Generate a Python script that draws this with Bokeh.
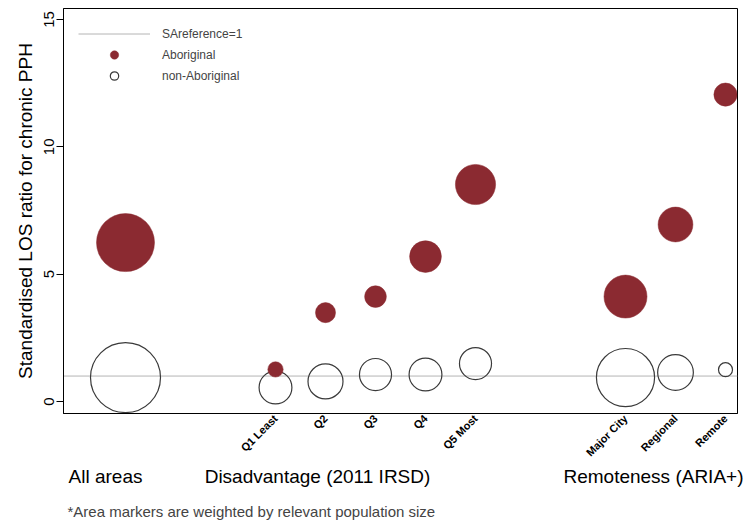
import math
from bokeh.plotting import figure
from bokeh.models import (FixedTicker, LinearAxis, Legend, LegendItem,
                          Title, Range1d, ColumnDataSource)
from bokeh.embed import file_html
from bokeh.resources import INLINE

# ---- data ----
categories = ["All areas", "Q1 Least", "Q2", "Q3", "Q4", "Q5 Most",
              "Major City", "Regional", "Remote"]
category_x = [1, 4, 5, 6, 7, 8, 11, 12, 13]
aboriginal = [6.24, 1.26, 3.49, 4.12, 5.69, 8.52, 4.12, 6.95, 12.05]
non_aboriginal = [0.94, 0.55, 0.79, 1.06, 1.06, 1.49, 0.94, 1.14, 1.25]
# relative population weights (All areas = 100) that size the markers
aboriginal_pop = [100, 7, 12, 14, 30, 48, 55, 36, 16]
non_aboriginal_pop = [100, 22, 25, 21, 22, 21, 69, 26, 4]
group_labels = ["All areas", "Disadvantage (2011 IRSD)", "Remoteness (ARIA+)"]
reference_value = 1
y_ticks = [0, 5, 10, 15]

FONT = "Liberation Sans"
RED = "#8b2a31"

src_a = ColumnDataSource(dict(x=category_x, y=aboriginal,
                              s=[5.8 * math.sqrt(v) for v in aboriginal_pop]))
src_n = ColumnDataSource(dict(x=category_x, y=non_aboriginal,
                              s=[7.0 * math.sqrt(v) for v in non_aboriginal_pop]))

xr = Range1d(-0.24, 13.24)
yr = Range1d(-0.47, 15.43)
p = figure(frame_width=674, frame_height=405, x_range=xr, y_range=yr,
           output_backend="svg", toolbar_location=None,
           min_border_left=63, min_border_top=8, min_border_right=6,
           min_border_bottom=0)
p.grid.visible = False
p.outline_line_color = "black"
p.outline_line_width = 1
p.background_fill_color = "white"
p.border_fill_color = "white"

ref_r = p.line(x=[xr.start, xr.end], y=[reference_value, reference_value],
               line_color="#b4b4b4", line_width=1)

non_r = p.scatter("x", "y", size="s", source=src_n, fill_alpha=0,
                  line_color="#3a3a3a", line_width=1.2)
abo_r = p.scatter("x", "y", size="s", source=src_a, fill_color=RED,
                  line_color=RED, line_width=0.5)

# y axis
ya = p.yaxis[0]
ya.ticker = FixedTicker(ticks=y_ticks)
ya.minor_tick_line_color = None
ya.major_tick_out = 7
ya.major_tick_in = 0
ya.major_label_orientation = "vertical"
ya.major_label_standoff = 2
ya.major_label_text_font = FONT
ya.major_label_text_font_size = "15px"
ya.major_label_text_color = "black"
ya.axis_label = "Standardised LOS ratio for chronic PPH"
ya.axis_label_text_font = FONT
ya.axis_label_text_font_size = "19px"
ya.axis_label_text_font_style = "normal"
ya.axis_label_text_color = "black"
ya.axis_label_standoff = 6
ya.axis_line_color = "black"

# x axis (sub-category labels)
xa = p.xaxis[0]
xa.ticker = FixedTicker(ticks=category_x[1:])
xa.major_label_overrides = {x: c for x, c in zip(category_x[1:], categories[1:])}
xa.major_label_orientation = math.pi / 4
xa.major_tick_out = 0
xa.major_tick_in = 0
xa.minor_tick_line_color = None
xa.major_label_standoff = 3
xa.major_label_text_font = FONT
xa.major_label_text_font_size = "11px"
xa.major_label_text_font_style = "bold"
xa.major_label_text_color = "black"
xa.axis_line_color = "black"

# group labels as a second axis
ga = LinearAxis(ticker=FixedTicker(ticks=[0.6, 4.84, 11.64]),
                major_label_overrides={0.6: group_labels[0], 4.84: group_labels[1],
                                       11.64: group_labels[2]})
ga.axis_line_color = None
ga.major_tick_line_color = None
ga.minor_tick_line_color = None
ga.major_tick_out = 0
ga.major_tick_in = 0
ga.major_label_standoff = 0
ga.major_label_text_font = FONT
ga.major_label_text_font_size = "19px"
ga.major_label_text_color = "black"
p.add_layout(ga, "below")

foot = Title(text="*Area markers are weighted by relevant population size",
             align="left", text_font=FONT, text_font_size="15px",
             text_font_style="normal", offset=4, standoff=22)
p.add_layout(foot, "below")

legend = Legend(items=[LegendItem(label="SAreference=1", renderers=[ref_r]),
                       LegendItem(label="Aboriginal", renderers=[abo_r]),
                       LegendItem(label="non-Aboriginal", renderers=[non_r])],
                location="top_left", glyph_width=72, glyph_height=21,
                label_standoff=12, spacing=0, padding=9, margin=15,
                border_line_color=None, background_fill_alpha=0,
                label_text_font=FONT, label_text_font_size="12px",
                label_height=21)
p.add_layout(legend)

open("out.html", "w").write(file_html(p, INLINE))
